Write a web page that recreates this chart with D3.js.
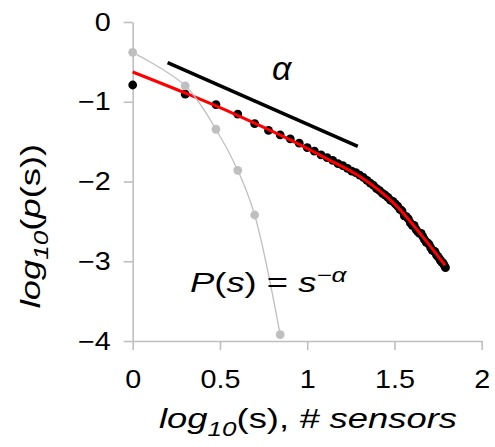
<!DOCTYPE html>
<html>
<head>
<meta charset="utf-8">
<script src="https://cdn.jsdelivr.net/npm/d3@7"></script>
<style>
  body { margin: 0; background: #fff; }
  svg { display: block; font-family: "Liberation Sans", Arial, sans-serif; }
</style>
</head>
<body>
<div id="grafico"></div>
<script>
// Datos (log10 de la probabilidad)
const sensores = [1,2,3,4,5,6,7,8,9,10,11,12,13,14,15,16,17,18,19,20,
  21,22,23,24,25,26,27,28,29,30,31,32,33,34,35,36,37,38,39,40,
  41,42,43,44,45,46,47,48,49,50,51,52,53,54,55,56,57,58,59,60,61,62];
const probNegro = [-0.79,-0.905,-1.035,-1.155,-1.275,-1.36,-1.415,-1.465,-1.52,-1.575,
  -1.62,-1.665,-1.70,-1.735,-1.775,-1.80,-1.835,-1.87,-1.89,-1.92,
  -1.95,-1.985,-2.02,-2.05,-2.09,-2.115,-2.15,-2.17,-2.20,-2.235,
  -2.25,-2.28,-2.31,-2.35,-2.37,-2.43,-2.44,-2.47,-2.52,-2.55,
  -2.55,-2.60,-2.63,-2.65,-2.65,-2.69,-2.73,-2.76,-2.77,-2.79,
  -2.83,-2.86,-2.87,-2.88,-2.92,-2.94,-2.96,-2.99,-3.01,-3.02,-3.05,-3.08];

// serie gris (modelo aleatorio)
const sensoresGris = [1,2,3,4,5,7];
const probGris = [-0.38,-0.80,-1.345,-1.86,-2.42,-3.92];

// curva de ajuste (roja)
const ajusteX = [0,0.3,0.6,0.9,1.1,1.3,1.5,1.65,1.79];
const ajusteY = [-0.627,-0.89,-1.17,-1.475,-1.70,-1.935,-2.28,-2.66,-3.05];

// linea de pendiente alpha
const pendienteX = [0.2,1.29];
const pendienteY = [-0.51,-1.56];

const ticksX = [0,0.5,1,1.5,2];
const ticksY = [0,-1,-2,-3,-4];

const WIDTH = 495;
const HEIGHT = 447;
const GRIS = "#bfbfbf";

var svg = d3.select("#grafico")
  .append("svg")
  .attr("width", WIDTH)
  .attr("height", HEIGHT);

var x = d3.scaleLinear().domain([0, 2]).range([132.7, 481.7]);
var y = d3.scaleLinear().domain([-4, 0]).range([341, 22]);

// Ejes
var ejeX = svg.append("g")
  .attr("transform", "translate(0," + y(-4) + ")")
  .call(d3.axisBottom(x).tickValues(ticksX).tickSize(9).tickSizeOuter(0)
    .tickFormat(d3.format("")));
var ejeY = svg.append("g")
  .attr("transform", "translate(" + x(0) + ",0)")
  .call(d3.axisLeft(y).tickValues(ticksY).tickSize(9).tickSizeOuter(0)
    .tickFormat(d3.format("")));

[ejeX, ejeY].forEach(function(e) {
  e.select(".domain").attr("stroke", GRIS).attr("stroke-width", 1.6);
  e.selectAll(".tick line").attr("stroke", GRIS).attr("stroke-width", 1.6);
  e.selectAll(".tick text")
    .attr("fill", "#000")
    .style("font-size", "25px")
    .style("font-family", "'Liberation Sans', Arial, sans-serif")
    .style("transform-box", "fill-box");
});
ejeX.selectAll(".tick text").attr("y", 47).attr("dy", 0)
  .style("transform-origin", "center").style("transform", "scaleX(1.15)");
ejeY.selectAll(".tick text").attr("x", -22)
  .style("transform-origin", "right center").style("transform", "scaleX(1.15)");

// Serie negra (datos)
svg.append("g").selectAll("circle")
  .data(sensores)
  .enter()
  .append("circle")
  .attr("cx", function(d) { return x(Math.log10(d)); })
  .attr("cy", function(d, i) { return y(probNegro[i]); })
  .attr("r", 4.4)
  .attr("fill", "#000");

// Ajuste rojo
var linea = d3.line()
  .x(function(d) { return x(d[0]); })
  .y(function(d) { return y(d[1]); })
  .curve(d3.curveCatmullRom);

svg.append("path")
  .datum(d3.zip(ajusteX, ajusteY))
  .attr("d", linea)
  .attr("fill", "none")
  .attr("stroke", "#ff0000")
  .attr("stroke-width", 3);

// Serie gris
svg.append("path")
  .datum(sensoresGris.map(function(s, i) { return [Math.log10(s), probGris[i]]; }))
  .attr("d", linea)
  .attr("fill", "none")
  .attr("stroke", GRIS)
  .attr("stroke-width", 1.3);

svg.append("g").selectAll("circle")
  .data(sensoresGris)
  .enter()
  .append("circle")
  .attr("cx", function(d) { return x(Math.log10(d)); })
  .attr("cy", function(d, i) { return y(probGris[i]); })
  .attr("r", 4.4)
  .attr("fill", GRIS);

// Pendiente alpha
svg.append("path")
  .datum(d3.zip(pendienteX, pendienteY))
  .attr("d", d3.line().x(function(d) { return x(d[0]); }).y(function(d) { return y(d[1]); }))
  .attr("stroke", "#000")
  .attr("stroke-width", 3.5);

svg.append("text")
  .attr("x", 281.7)
  .attr("y", 80)
  .attr("text-anchor", "middle")
  .style("font-size", "34px")
  .style("font-style", "italic")
  .text("α");

// Formula P(s) = s^-alpha
var formula = svg.append("g")
  .attr("transform", "translate(190,292) scale(1.3,1)")
  .append("text")
  .style("font-size", "28px");
formula.append("tspan").style("font-style", "italic").text("P");
formula.append("tspan").text("(");
formula.append("tspan").style("font-style", "italic").text("s");
formula.append("tspan").text(") = ");
formula.append("tspan").style("font-style", "italic").text("s");
formula.append("tspan").attr("dy", -10).style("font-size", "20px")
  .style("font-style", "italic").text("\u2212α");

// Titulo eje X
var tituloX = svg.append("g")
  .attr("transform", "translate(308,428) scale(1.3,1)")
  .append("text")
  .attr("text-anchor", "middle")
  .style("font-size", "28px");
tituloX.append("tspan").style("font-style", "italic").text("log");
tituloX.append("tspan").attr("dy", 8).style("font-size", "20px").style("font-style", "italic").text("10");
tituloX.append("tspan").attr("dy", -8).text("(s), ");
tituloX.append("tspan").style("font-style", "italic").text("# sensors");

// Titulo eje Y
var tituloY = svg.append("g")
  .attr("transform", "translate(40,226) rotate(-90) scale(1.3,1)")
  .append("text")
  .attr("text-anchor", "middle")
  .style("font-size", "28px");
tituloY.append("tspan").style("font-style", "italic").text("log");
tituloY.append("tspan").attr("dy", 8).style("font-size", "20px").style("font-style", "italic").text("10");
tituloY.append("tspan").attr("dy", -8).text("(");
tituloY.append("tspan").style("font-style", "italic").text("p");
tituloY.append("tspan").text("(s))");
</script>
</body>
</html>
